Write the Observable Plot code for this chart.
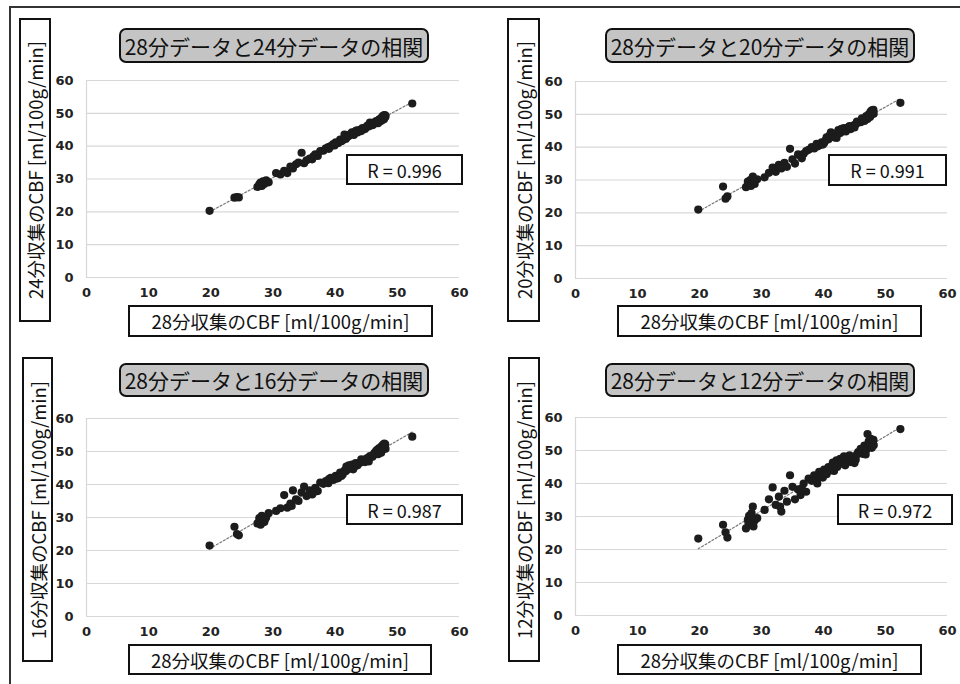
<!DOCTYPE html>
<html><head><meta charset="utf-8">
<script src="https://cdn.jsdelivr.net/npm/d3@7"></script>
<script src="https://cdn.jsdelivr.net/npm/@observablehq/plot@0.6"></script>
<style>
body{margin:0;background:#fff;}
#wrap{position:relative;width:960px;height:684px;overflow:hidden;background:#fff;font-family:"Noto Sans CJK JP","Noto Sans",sans-serif;}
.frame{position:absolute;left:9px;top:6px;width:1000px;height:1000px;border-top:2px solid #333;border-left:2px solid #333;}
.panel{position:absolute;}
.box{position:absolute;box-sizing:border-box;border:2px solid #111;background:#fff;display:flex;align-items:center;justify-content:center;color:#111;white-space:nowrap;}
.title{background:#c4c4c4;border-radius:7px;font-size:21px;}
.ylab{font-size:18.5px;}
.ylab span{transform:rotate(-90deg);display:block;}
.xlab{font-size:18.5px;}
.rbox{font-size:18px;}
</style>
</head><body>
<div id="wrap"><div class="frame"></div></div>
<script>
// ---- data ----
const ticks = [0, 10, 20, 30, 40, 50, 60];
const titles = ["28分データと24分データの相関", "28分データと20分データの相関", "28分データと16分データの相関", "28分データと12分データの相関"];
const yLabels = ["24分収集のCBF [ml/100g/min]", "20分収集のCBF [ml/100g/min]", "16分収集のCBF [ml/100g/min]", "12分収集のCBF [ml/100g/min]"];
const xLabel = "28分収集のCBF [ml/100g/min]";
const rValues = ["R = 0.996", "R = 0.991", "R = 0.987", "R = 0.972"];

// 28-minute CBF (x, shared by all panels)
const x28 = [19.8,23.8,24.2,24.5,27.5,27.8,28.0,28.2,28.4,28.6,28.9,29.3,30.5,31.2,31.8,32.3,32.8,33.2,33.7,34.1,34.6,35.0,35.4,35.9,36.3,36.8,37.2,37.6,38.1,38.5,38.9,39.3,39.7,40.1,40.5,40.8,41.2,41.5,41.8,42.1,42.4,42.7,43.0,43.3,43.6,44.0,44.4,44.8,45.2,45.6,46.0,46.3,46.6,46.9,47.1,47.3,47.5,47.6,47.7,47.8,47.9,48.0,48.1,52.4,
  27.9,28.3,28.7,33.0,36.5,39.0,39.9,40.3,41.0,41.7,42.2,42.9,43.5,44.2,45.0,45.4,46.2,46.8,47.4,47.85,48.05];
// 24-minute CBF
const y24 = [20.3,24.3,24.5,24.4,27.6,28.4,28.9,27.9,29.3,28.5,29.6,29.0,31.8,31.4,32.5,31.8,33.8,33.2,34.5,35.0,38.0,34.8,35.7,36.2,36.0,37.5,37.0,38.5,38.6,39.3,39.7,40.0,40.6,41.2,41.0,42.0,41.8,43.5,42.6,43.0,43.6,44.2,43.4,44.6,44.2,45.0,45.5,45.2,46.3,47.2,46.4,46.8,47.6,47.0,48.2,47.6,48.8,48.0,49.2,48.5,49.5,48.8,49.0,53.0,
  28.0,28.8,29.1,33.4,36.9,39.2,40.2,40.9,41.5,42.2,43.2,43.8,44.8,44.6,45.8,46.0,47.2,47.4,48.4,48.2,49.4];
// 20-minute CBF
const y20 = [21.0,28.0,24.3,25.0,27.8,29.5,28.5,30.0,29.0,31.0,28.8,30.2,30.8,32.2,33.8,32.5,34.6,33.5,35.2,34.0,39.5,36.3,35.0,37.8,37.2,38.0,38.8,39.2,40.0,39.6,41.0,40.5,41.5,41.3,43.0,42.4,44.5,43.2,44.0,42.8,45.2,44.3,45.0,45.8,44.8,46.0,45.5,46.6,47.0,47.5,47.6,48.2,48.0,49.5,48.6,50.0,49.2,50.8,49.8,51.2,50.4,51.0,50.2,53.5,
  29.0,28.2,29.8,34.0,36.6,40.2,40.8,42.0,43.6,43.0,44.0,45.6,45.0,46.4,46.0,47.8,48.8,48.4,49.6,50.6,51.4];
// 16-minute CBF
const y16 = [21.5,27.2,25.0,24.6,28.2,29.8,27.8,30.5,29.2,28.6,30.0,31.3,32.0,32.8,36.8,33.0,34.2,38.2,35.5,35.0,37.6,39.4,36.5,38.2,37.0,39.0,38.0,40.6,40.2,41.0,40.4,42.0,41.4,42.6,42.0,43.6,43.0,44.2,45.4,44.6,45.0,46.0,45.2,46.5,45.8,46.6,47.2,46.8,48.0,48.6,48.4,49.5,50.2,49.2,51.0,50.4,51.6,50.8,52.0,51.2,52.4,51.5,50.8,54.5,
  29.0,30.2,29.4,33.5,37.6,41.6,42.2,41.8,42.6,44.0,45.8,44.6,46.2,47.6,47.8,47.0,49.0,50.6,49.6,51.8,52.2];
// 12-minute CBF
const y12 = [23.3,27.5,25.2,23.6,26.4,29.0,30.2,27.5,31.0,33.0,28.8,29.5,32.0,35.2,38.8,33.5,36.0,31.5,37.8,34.5,42.5,39.0,35.2,38.2,36.5,40.0,37.5,41.5,40.8,42.5,41.2,43.5,42.0,44.2,42.8,45.0,44.0,46.3,45.0,47.0,45.6,47.5,46.2,48.2,46.8,47.6,46.5,48.0,47.2,49.5,50.5,49.0,51.5,50.2,55.0,52.8,51.0,53.5,52.2,50.8,53.0,52.0,51.6,56.5,
  28.0,29.8,27.0,33.0,38.5,40.0,41.8,43.0,44.8,43.8,45.0,46.8,45.5,48.5,46.2,48.8,49.8,48.8,52.2,51.5,53.2];

const series = [y24, y20, y16, y12];

// ---- layout ----
const layouts = [
  {left:0, top:0, m:[80,21,65,86], title:[119,28,310,35], ylab:[19,18,32,304], xlab:[128,305,305,32], r:[346,154,117,31]},
  {left:480, top:0, m:[81,13,64,95], title:[605,28,310,35], ylab:[507,18,33,304], xlab:[617,305,305,32], r:[828,154,119,32]},
  {left:0, top:342, m:[76,21,68,86], title:[119,363,310,34], ylab:[22,357,31,305], xlab:[128,644,304,31], r:[346,494,117,31]},
  {left:480, top:342, m:[75,13,69,95], title:[605,363,310,34], ylab:[508,357,32,305], xlab:[617,644,305,31], r:[837,494,116,31]}
];

const wrap = document.getElementById("wrap");

function addBox(cls, rect, text, rotate) {
  const d = document.createElement("div");
  d.className = "box " + cls;
  d.style.left = rect[0] + "px"; d.style.top = rect[1] + "px";
  d.style.width = rect[2] + "px"; d.style.height = rect[3] + "px";
  if (rotate) { const s = document.createElement("span"); s.textContent = text; d.appendChild(s); }
  else d.textContent = text;
  wrap.appendChild(d);
}

series.forEach((ys, k) => {
  const L = layouts[k];
  const data = x28.map((x, i) => ({x, y: ys[i]}));
  const svg = Plot.plot({
    width: 480, height: 342,
    marginTop: L.m[0], marginRight: L.m[1], marginBottom: L.m[2], marginLeft: L.m[3],
    style: {background: "transparent", fontFamily: "DejaVu Sans", fontSize: "13px", fontWeight: "bold", color: "#222", overflow: "visible"},
    x: {domain: [0, 60], ticks: ticks, tickSize: 0, tickPadding: 10, label: null},
    y: {domain: [0, 60], ticks: ticks, tickSize: 0, tickPadding: 13, label: null},
    marks: [
      Plot.ruleY(ticks, {stroke: "#d8d8d8", strokeWidth: 1.2}),
      Plot.ruleX([0], {stroke: "#d8d8d8", strokeWidth: 1.2}),
      Plot.linearRegressionY(data, {x: "x", y: "y", stroke: "#777", strokeWidth: 1.2, strokeDasharray: "2,2", ci: 0}),
      Plot.dot(data, {x: "x", y: "y", r: 4.1, fill: "#1c1c1c"})
    ]
  });
  const holder = document.createElement("div");
  holder.className = "panel";
  holder.style.left = L.left + "px"; holder.style.top = L.top + "px";
  holder.appendChild(svg);
  wrap.appendChild(holder);
  addBox("title", L.title, titles[k]);
  addBox("ylab", L.ylab, yLabels[k], true);
  addBox("xlab", L.xlab, xLabel);
  addBox("rbox", L.r, rValues[k]);
});
</script>
</body></html>
